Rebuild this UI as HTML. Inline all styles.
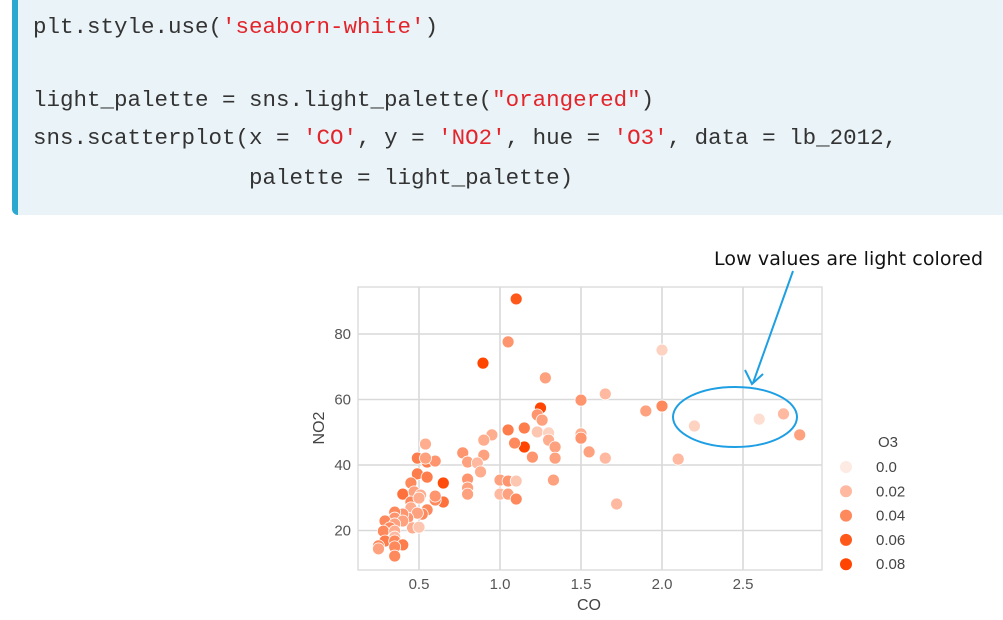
<!DOCTYPE html>
<html><head><meta charset="utf-8">
<style>
body{margin:0;width:1003px;height:620px;background:#fff;overflow:hidden;position:relative;font-family:"Liberation Sans",sans-serif}
.code{position:absolute;left:12px;top:-6px;width:1000px;height:221px;background:#eaf3f7;border-left:6px solid #2ba8d0;border-radius:0 0 0 6px;box-sizing:border-box}
.ln{position:absolute;left:15px;font-family:"Liberation Mono","DejaVu Sans Mono",monospace;font-size:22.5px;color:#333;white-space:pre;letter-spacing:0}
.s{color:#e3242b}
</style></head><body>
<div class="code">
<div class="ln" style="top:20px">plt.style.use(<span class="s">'seaborn-white'</span>)</div>
<div class="ln" style="top:93px">light_palette = sns.light_palette(<span class="s">"orangered"</span>)</div>
<div class="ln" style="top:131px">sns.scatterplot(x = <span class="s">'CO'</span>, y = <span class="s">'NO2'</span>, hue = <span class="s">'O3'</span>, data = lb_2012,</div>
<div class="ln" style="top:171px">                palette = light_palette)</div>
</div>
<svg id="chart" width="1003" height="620" style="position:absolute;left:0;top:0"></svg>
<script>
const co=[1.10,0.895,1.05,1.28,1.25,1.23,1.26,1.15,1.05,1.23,1.30,1.30,1.34,1.34,1.15,1.09,1.20,1.33,0.95,0.90,0.90,0.77,0.80,0.86,0.88,0.80,0.80,0.80,1.00,1.00,1.05,1.10,1.05,1.10,1.50,1.50,1.50,1.65,1.55,1.65,1.72,1.90,2.00,2.00,2.20,2.10,2.60,2.75,2.85,
0.54,0.49,0.55,0.60,0.54,0.49,0.55,0.65,0.65,0.45,0.40,0.47,0.51,0.45,0.50,0.60,0.60,0.45,0.55,0.52,0.49,0.43,0.40,0.46,0.50,0.35,0.35,0.29,0.40,0.35,0.32,0.28,0.35,0.35,0.29,0.35,0.40,0.35,0.35,0.25,0.25];
const no2=[90.7,71.1,77.6,66.6,57.4,55.3,53.7,51.3,50.7,50.1,49.8,47.6,45.5,42.1,45.5,46.7,42.4,35.4,49.2,47.6,43,43.7,40.9,40.6,37.9,35.7,33,31.1,35.4,31.1,35.1,35.1,31.1,29.6,59.8,49.5,48.2,61.7,44,42.1,28.1,56.5,58,75.1,51.9,41.8,54,55.6,49.2,
46.4,42.1,40.9,41.2,42.1,37.3,36.3,34.5,28.7,34.5,31.1,31.8,30.8,28.7,29.9,29.3,30.5,26.9,26.3,25,25.3,23.8,25,20.8,21,25.6,23.8,22.9,22.9,22,20.8,19.8,19.8,18,16.8,16.8,15.6,15,12.2,15.3,14.4];
const o3=[0.06,0.07,0.035,0.03,0.07,0.035,0.03,0.045,0.045,0.015,0.01,0.025,0.03,0.03,0.07,0.04,0.035,0.03,0.025,0.025,0.03,0.035,0.03,0.02,0.025,0.035,0.03,0.03,0.03,0.02,0.035,0.015,0.03,0.04,0.035,0.025,0.035,0.02,0.03,0.02,0.02,0.03,0.04,0.01,0.01,0.02,0.005,0.02,0.03,
0.025,0.045,0.045,0.035,0.03,0.045,0.045,0.065,0.05,0.04,0.05,0.03,0.025,0.04,0.025,0.04,0.035,0.025,0.04,0.04,0.03,0.035,0.035,0.025,0.015,0.04,0.035,0.04,0.03,0.03,0.04,0.04,0.025,0.02,0.045,0.04,0.045,0.04,0.04,0.04,0.03];
const xTicks=[0.5,1.0,1.5,2.0,2.5];
const yTicks=[20,40,60,80];
const legendVals=[0.0,0.02,0.04,0.06,0.08];
const legendLabels=["0.0","0.02","0.04","0.06","0.08"];

const svg=document.getElementById('chart');
const NS='http://www.w3.org/2000/svg';
const X=v=>338+v*162, Y=v=>596-v*3.275;
function col(v){const t=Math.max(0,Math.min(1,v/0.068));
 const a=[253,234,226],b=[255,69,0];
 return 'rgb('+a.map((c,i)=>Math.round(c+(b[i]-c)*t)).join(',')+')';}
function mk(tag,at,txt){const e=document.createElementNS(NS,tag);for(const k in at)e.setAttribute(k,at[k]);if(txt!==undefined)e.textContent=txt;svg.appendChild(e);return e;}
const L=358,R=822,T=287,B=570;
xTicks.forEach(v=>{
 const g=mk('line',{x1:X(v),x2:X(v),y1:T,y2:B,stroke:'#d9d9d9','stroke-width':1.6});
 
 
 const t=mk('text',{x:X(v),y:589,'text-anchor':'middle','font-size':15,fill:'#555'},v.toFixed(1));
 
 
});
yTicks.forEach(v=>{
 const g=mk('line',{x1:L,x2:R,y1:Y(v),y2:Y(v),stroke:'#d9d9d9','stroke-width':1.6});
 
 
 const t=mk('text',{x:351,y:Y(v)+5,'text-anchor':'end','font-size':15,fill:'#555'},String(v));
 
 
});
const fr=mk('rect',{x:L,y:T,width:R-L,height:B-T,fill:'none',stroke:'#d9d9d9','stroke-width':1.3});


co.forEach((c,i)=>{
 const p=mk('circle',{cx:X(c),cy:Y(no2[i]),r:6,fill:col(o3[i]),stroke:'#fff','stroke-width':0.8});
 
 
});
const xl=mk('text',{x:589,y:610,'text-anchor':'middle','font-size':16,fill:'#444'},'CO');


const yl=mk('text',{x:0,y:0,'text-anchor':'middle','font-size':16,fill:'#444',transform:'translate(324,428) rotate(-90)'},'NO2');


const lt=mk('text',{x:878,y:447,'font-size':15,fill:'#444'},'O3');


legendVals.forEach((v,i)=>{
 const y=467+i*24.3;
 const d=mk('circle',{cx:846,cy:y,r:6,fill:col(v)});
 
 
 const t=mk('text',{x:876,y:y+5,'font-size':15,fill:'#444'},legendLabels[i]);
 
 
});
const an=mk('text',{x:714,y:265,'font-size':19,fill:'#111','font-family':'"DejaVu Sans","Liberation Sans",sans-serif','textLength':269},'Low values are light colored');


const ar=mk('path',{d:'M793,271 L753,383 M745,370 L752,384 L763,374',fill:'none',stroke:'#1e9fe3','stroke-width':2});


const el=mk('ellipse',{cx:735,cy:417,rx:62,ry:30,fill:'none',stroke:'#1e9fe3','stroke-width':2});


</script>
</body></html>
